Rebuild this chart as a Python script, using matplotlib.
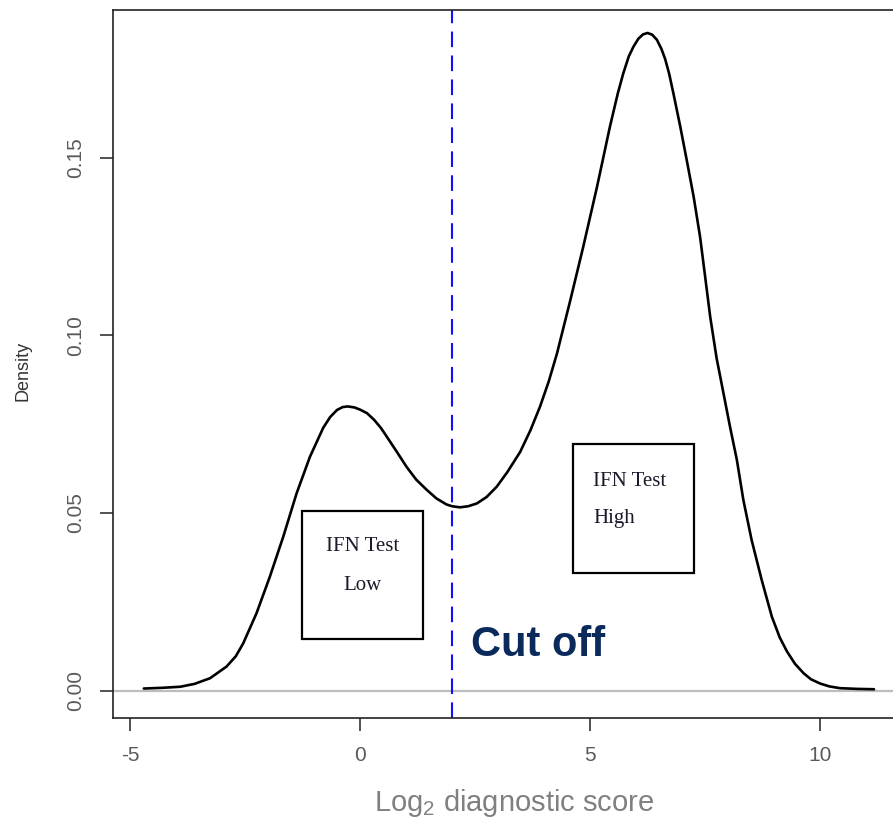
import numpy as np
import matplotlib.pyplot as plt
from matplotlib.patches import Rectangle

plt.rcParams['font.family'] = ['Liberation Sans', 'DejaVu Sans']
plt.rcParams['mathtext.fontset'] = 'custom'
plt.rcParams['mathtext.rm'] = 'Liberation Sans'

# density curve
score = [-4.70, -4.30, -3.91, -3.60, -3.26, -2.90, -2.70, -2.54, -2.25, -1.96,
         -1.67, -1.38, -1.09, -0.80, -0.65, -0.50, -0.38, -0.27, -0.12, 0.00,
         0.15, 0.30, 0.45, 0.58, 0.80, 1.01, 1.22, 1.45, 1.66, 1.88,
         2.00, 2.17, 2.35, 2.54, 2.75, 2.97, 3.20, 3.48, 3.70, 3.91,
         4.10, 4.28, 4.57, 4.85, 5.15, 5.43, 5.60, 5.72, 5.84, 5.94,
         6.05, 6.15, 6.25, 6.35, 6.45, 6.55, 6.63, 6.72, 6.81, 6.96,
         7.10, 7.25, 7.39, 7.50, 7.61, 7.75, 7.90, 8.04, 8.19, 8.33,
         8.51, 8.73, 8.95, 9.12, 9.28, 9.45, 9.64, 9.80, 10.00, 10.20,
         10.43, 10.80, 11.17]
density = [0.0006, 0.0008, 0.0011, 0.0019, 0.0035, 0.0068, 0.0097, 0.0133, 0.0218, 0.0321,
           0.0433, 0.0555, 0.0658, 0.0740, 0.0770, 0.0790, 0.0798, 0.0800, 0.0797, 0.0791,
           0.0781, 0.0763, 0.0740, 0.0715, 0.0672, 0.0630, 0.0594, 0.0565, 0.0541, 0.0524,
           0.0519, 0.0516, 0.0519, 0.0527, 0.0545, 0.0574, 0.0615, 0.0672, 0.0732, 0.0799,
           0.0870, 0.0949, 0.1099, 0.1249, 0.1418, 0.1587, 0.1680, 0.1737, 0.1785, 0.1812,
           0.1835, 0.1847, 0.1851, 0.1846, 0.1832, 0.1806, 0.1778, 0.1735, 0.1681, 0.1587,
           0.1493, 0.1390, 0.1277, 0.1165, 0.1052, 0.0935, 0.0836, 0.0743, 0.0649, 0.0537,
           0.0424, 0.0311, 0.0208, 0.0150, 0.0110, 0.0076, 0.0049, 0.0032, 0.0020, 0.0012,
           0.0007, 0.0005, 0.0004]

cutoff = 2
xticks = [-5, 0, 5, 10]
yticks = [0.00, 0.05, 0.10, 0.15]
ytick_labels = ['0.00', '0.05', '0.10', '0.15']

fig = plt.figure(figsize=(8.93, 8.27), dpi=100)
ax = fig.add_axes([0.1262, 0.1322, 0.885, 0.8563])

ax.axhline(0, color='#bdbdbd', lw=1.6, zorder=1)
ax.plot(score, density, color='black', lw=1.9, zorder=3,
        solid_joinstyle='round', solid_capstyle='round')
ax.axvline(cutoff, color='#1010ff', lw=1.5, ls=(0, (7.5, 4)), zorder=2)

ax.set_xlim(-5.376, 11.8)
ax.set_ylim(-0.0076, 0.1917)

ax.set_xticks(xticks)
ax.set_xticklabels([str(t) for t in xticks])
ax.set_yticks(yticks)
ax.set_yticklabels(ytick_labels, rotation=90, va='center')
ax.tick_params(direction='out', length=9.5, width=1.1, color='#222222',
               labelsize=15, labelcolor='#5a5a5a')
ax.tick_params(axis='x', pad=11)
ax.tick_params(axis='y', pad=10)
for s in ax.spines.values():
    s.set_color('#222222')
    s.set_linewidth(1.2)

ax.set_xlabel(r'Log$_{\mathrm{2}}$ diagnostic score', fontsize=21, color='#808080', va='center')
ax.xaxis.set_label_coords(0.508, -0.1204)
ax.set_ylabel('Density', fontsize=13, color='#333333', va='center')
ax.yaxis.set_label_coords(-0.113, 0.49)

# annotation boxes
ax.add_patch(Rectangle((-1.267, 0.01455), 2.637, 0.03605, fill=False, ec='black', lw=1.6, zorder=4))
ax.add_patch(Rectangle((4.637, 0.0330), 2.630, 0.0363, fill=False, ec='black', lw=1.6, zorder=4))

serif = ['Liberation Serif', 'DejaVu Serif']
ax.text(0.059, 0.0405, 'IFN Test', family=serif, fontsize=15, color='#1a1a2a', ha='center', va='center')
ax.text(0.059, 0.0297, 'Low', family=serif, fontsize=15, color='#1a1a2a', ha='center', va='center')
ax.text(5.07, 0.0588, 'IFN Test', family=serif, fontsize=15, color='#1a1a2a', ha='left', va='center')
ax.text(5.07, 0.0485, 'High', family=serif, fontsize=15, color='#1a1a2a', ha='left', va='center')

ax.text(2.413, 0.0129, 'Cut off', fontsize=30, fontweight='bold', color='#0b2a5c', ha='left', va='center')

fig.savefig('out.png', dpi=100)
